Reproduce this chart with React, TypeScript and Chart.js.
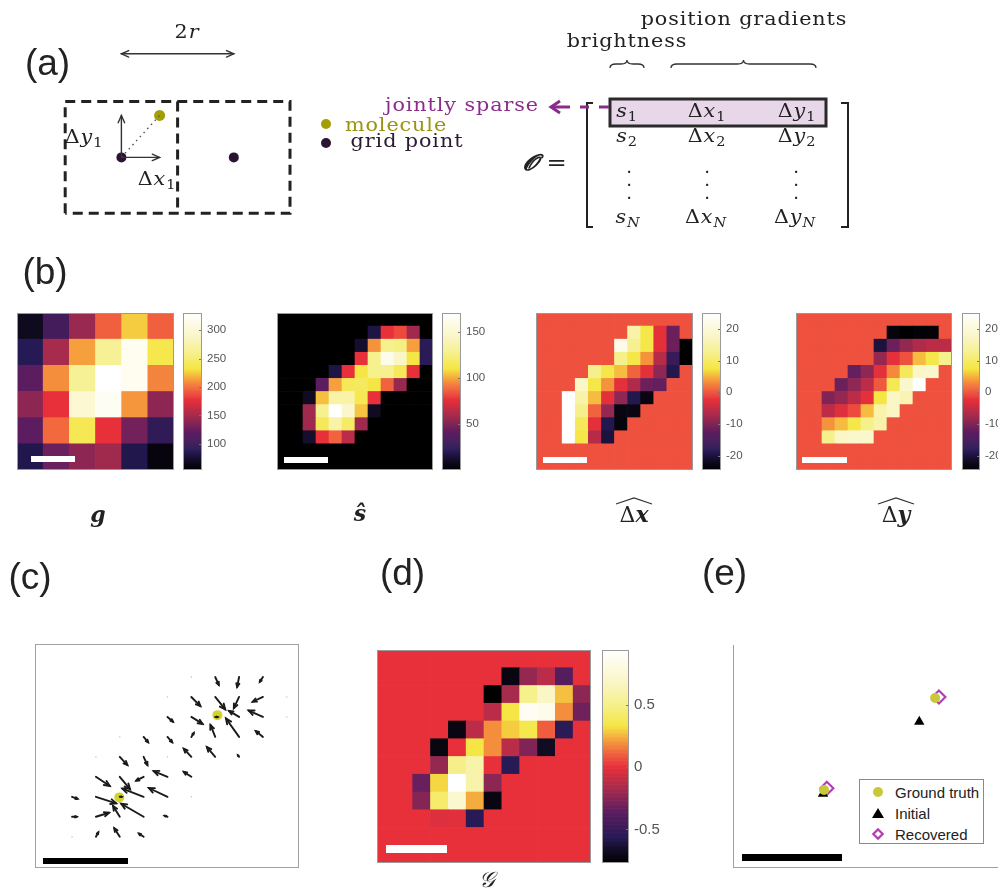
import React, { useEffect, useRef } from 'react';
import { Chart, registerables } from 'chart.js';
Chart.register(...registerables);

const SANS = '"Liberation Sans", Arial, Helvetica, sans-serif';
const SERIF = '"DejaVu Serif", "Liberation Serif", serif';

// ---------------- DATA ----------------
// (b) observed image g (6x6)
const gImage = [
  [68, 106, 145, 195, 225, 195],
  [87, 151, 214, 264, 319, 236],
  [120, 209, 264, 330, 319, 206],
  [140, 178, 297, 322, 211, 140],
  [120, 198, 239, 178, 129, 93],
  [84, 126, 140, 148, 84, 60],
];
const gRange = [54, 330];
const gTicks = [100, 150, 200, 250, 300];

// (b) recovered brightness s-hat (12x12)
const sHatImage = [
  [0, 0, 0, 0, 0, 0, 0, 0, 0, 0, 0, 0],
  [0, 0, 0, 0, 0, 0, 0, 17, 77, 83, 58, 0],
  [0, 0, 0, 0, 0, 0, 12, 97, 128, 126, 99, 22],
  [0, 0, 0, 0, 0, 0, 77, 128, 162, 145, 111, 22],
  [0, 0, 0, 0, 17, 77, 111, 128, 129, 116, 77, 0],
  [0, 0, 0, 41, 99, 116, 117, 111, 88, 56, 0, 0],
  [0, 0, 9, 104, 136, 136, 114, 77, 0, 0, 0, 0],
  [0, 0, 58, 129, 170, 148, 105, 9, 0, 0, 0, 0],
  [0, 0, 58, 116, 136, 119, 58, 0, 0, 0, 0, 0],
  [0, 0, 12, 77, 88, 65, 0, 0, 0, 0, 0, 0],
  [0, 0, 0, 0, 0, 0, 0, 0, 0, 0, 0, 0],
  [0, 0, 0, 0, 0, 0, 0, 0, 0, 0, 0, 0],
];
const sHatRange = [0, 171];
const sHatTicks = [50, 100, 150];

// (b) recovered position gradient dx-hat
const dxImage = [
  [0, 0, 0, 0, 0, 0, 0, 0, 0, 0, 0, 0],
  [0, 0, 0, 0, 0, 0, 0, 15, 8, -2.5, -11.5, 0],
  [0, 0, 0, 0, 0, 0, 22, 13, 8, -2.5, -11.5, -25],
  [0, 0, 0, 0, 0, 0, 12.5, 8, 3.5, -6, -16.5, -25],
  [0, 0, 0, 0, 12.5, 8, 5.5, 1, -2.5, -9, -19, 0],
  [0, 0, 0, 17.5, 8, 3.5, -2.5, -6.5, -11.5, -12, 0, 0],
  [0, 0, 25, 15, 5.5, -2.5, -9, -19, -23, 0, 0, 0],
  [0, 0, 25, 12.5, 1, -8.5, -23, -23, 0, 0, 0, 0],
  [0, 0, 25, 9, -2.5, -19, -23.5, 0, 0, 0, 0, 0],
  [0, 0, 25, 8, -6, -20, 0, 0, 0, 0, 0, 0],
  [0, 0, 0, 0, 0, 0, 0, 0, 0, 0, 0, 0],
  [0, 0, 0, 0, 0, 0, 0, 0, 0, 0, 0, 0],
];
// (b) recovered position gradient dy-hat
const dyImage = [
  [0, 0, 0, 0, 0, 0, 0, 0, 0, 0, 0, 0],
  [0, 0, 0, 0, 0, 0, 0, -23.5, -25, -24, -24, 0],
  [0, 0, 0, 0, 0, 0, -20, -11.5, -8.5, -6.5, -5.5, -5.5],
  [0, 0, 0, 0, 0, 0, -8.5, -2.5, 0, 5.5, 8, 12.5],
  [0, 0, 0, 0, -12, -9, -2.5, 3, 9, 17.5, 18.5, 0],
  [0, 0, 0, -11.5, -9, -5.5, 0.5, 8.5, 18.5, 25, 0, 0],
  [0, 0, -10, -8.5, -5.5, -2.5, 7.5, 17.5, 16, 0, 0, 0],
  [0, 0, -5.5, -3, -0.5, 5.5, 15, 17.5, 0, 0, 0, 0],
  [0, 0, 3.5, 5.5, 8, 12.5, 15, 0, 0, 0, 0, 0],
  [0, 0, 12.5, 17.5, 18.5, 18.5, 0, 0, 0, 0, 0, 0],
  [0, 0, 0, 0, 0, 0, 0, 0, 0, 0, 0, 0],
  [0, 0, 0, 0, 0, 0, 0, 0, 0, 0, 0, 0],
];
const deltaRange = [-24.5, 25];
const deltaTicks = [-20, -10, 0, 10, 20];

// (d) G
const bigGImage = [
  [0, 0, 0, 0, 0, 0, 0, 0, 0, 0, 0, 0],
  [0, 0, 0, 0, 0, 0, 0, -0.72, -0.22, -0.12, -0.39, 0],
  [0, 0, 0, 0, 0, 0, -0.77, -0.17, 0.51, 0.68, 0.27, -0.24],
  [0, 0, 0, 0, 0, 0, -0.12, 0.34, 0.89, 0.85, 0.19, -0.31],
  [0, 0, 0, 0, -0.72, -0.12, 0.19, 0.29, 0.36, 0.1, -0.55, 0],
  [0, 0, 0, -0.72, 0, 0.34, 0.19, -0.12, -0.27, -0.67, 0, 0],
  [0, 0, 0, -0.22, 0.5, 0.6, 0, -0.56, 0, 0, 0, 0],
  [0, 0, -0.33, 0.31, 0.94, 0.6, -0.24, 0, 0, 0, 0, 0],
  [0, 0, -0.26, 0.43, 0.73, 0.24, -0.72, 0, 0, 0, 0, 0],
  [0, 0, 0, -0.03, -0.02, -0.56, 0, 0, 0, 0, 0, 0],
  [0, 0, 0, 0, 0, 0, 0, 0, 0, 0, 0, 0],
  [0, 0, 0, 0, 0, 0, 0, 0, 0, 0, 0, 0],
];
const bigGRange = [-0.77, 0.94];
const bigGTicks = [-0.5, 0, 0.5];

// (c) quiver field: grid column, grid row, u, v (grid units)
const quiverCol = [6, 7, 8, 5, 4, 5, 6, 7, 8, 9, 4, 5, 6, 7, 8, 9, 2, 3, 4, 5, 6, 7, 8, 1, 2, 3, 4, 5, 6, 7, 1, 2, 3, 4, 5, 0, 1, 2, 3, 4, 5, 0, 1, 2, 3, 4, 0, 1, 2, 3];
const quiverRow = [0, 0, 0, 0, 1, 1, 1, 1, 1, 1, 2, 2, 2, 2, 2, 2, 3, 3, 3, 3, 3, 3, 3, 4, 4, 4, 4, 4, 4, 4, 5, 5, 5, 5, 5, 6, 6, 6, 6, 6, 6, 7, 7, 7, 7, 7, 8, 8, 8, 8];
const quiverU = [0.15, -0.08, -0.13, 0, 0, 0.38, 0.42, -0.22, -0.43, 0, 0.23, 0.47, 0.1, -0.42, -0.6, 0, 0, 0.19, 0.2, 0.1, -0.2, -0.55, -0.3, 0, 0.32, 0.16, 0, -0.32, -0.35, -0.05, 0.58, 0.43, -0.31, -0.58, -0.32, 0.23, 0.85, 0.08, -0.89, -0.78, 0, 0.2, 0.55, -0.28, -0.94, -0.12, 0, 0.1, -0.23, -0.2];
const quiverV = [0.4, 0.5, 0.24, 0, 0, 0.46, 0.62, 0.56, 0.24, 0, 0.24, 0.35, 0, -0.3, -0.32, 0, 0, 0.27, 0.27, -0.2, -0.6, -0.92, -0.29, 0, 0.41, 0.41, 0, -0.41, -0.49, -0.08, 0.46, 0.62, 0.19, -0.29, -0.25, 0.1, 0.33, 0, -0.41, -0.44, 0, 0, -0.2, -0.54, -0.65, -0.05, 0, -0.22, -0.43, -0.16];
const quiverMolX = [1.98, 6.09];
const quiverMolY = [6.03, 1.91];

// (e) localisation
const legendLabels = ['Ground truth', 'Initial', 'Recovered'];
const truthX = [1.95, 6.02];
const truthY = [6.07, 1.91];
const initialX = [1.91, 5.44];
const initialY = [6.24, 2.99];
const recoveredX = [2.05, 6.16];
const recoveredY = [5.99, 1.87];

// (a) diagram (units of r)
const cellBoxX = [-1, -1, 3, 3, -1];
const cellBoxY = [-1, 1, 1, -1, -1];
const dividerX = [1, 1];
const dividerY = [1, -1];
const gridPointX = [0, 2];
const gridPointY = [0, 0];
const moleculeX = [0.68];
const moleculeY = [0.75];
const diagArrowX0 = [0, 0, 0];
const diagArrowY0 = [0, 0, 1.85];
const diagArrowX1 = [0, 0.68, 2];
const diagArrowY1 = [0.75, 0, 1.85];
const diagArrowBoth = [false, false, true];

// ---------------- COLORMAP ----------------
const cmapPos = [0, 0.06, 0.12, 0.24, 0.34, 0.45, 0.5, 0.57, 0.645, 0.75, 0.85, 1];
const cmapHex = ['#000000', '#120c24', '#261a55', '#5c1d60', '#a02a4e', '#e8303a', '#ef553e', '#f5963c', '#f5e642', '#f6f08e', '#faf6c6', '#ffffff'];
const cmapRgb = cmapHex.map((h) => [parseInt(h.slice(1, 3), 16), parseInt(h.slice(3, 5), 16), parseInt(h.slice(5, 7), 16)]);
function cmapColor(v: number, range: number[]) {
  let t = (v - range[0]) / (range[1] - range[0]);
  t = Math.max(0, Math.min(1, t));
  let i = 0;
  while (i < cmapPos.length - 2 && t > cmapPos[i + 1]) i++;
  const f = (t - cmapPos[i]) / (cmapPos[i + 1] - cmapPos[i]);
  const a = cmapRgb[i], b = cmapRgb[i + 1];
  const c = [0, 1, 2].map((k) => Math.round(a[k] + (b[k] - a[k]) * f));
  return `rgb(${c[0]},${c[1]},${c[2]})`;
}

// ---------------- CHART CONFIGS ----------------
const baseOptions = (scales: any, padding: any = 0) => ({
  animation: false,
  responsive: false,
  maintainAspectRatio: false,
  events: [],
  layout: { padding },
  plugins: { legend: { display: false }, tooltip: { enabled: false }, title: { display: false } },
  scales,
});

const hiddenLinear = (min: number, max: number, reverse = false) => ({
  type: 'linear', min, max, reverse, offset: false, display: false,
  afterBuildTicks: (s: any) => { s.ticks = []; },
});

function heatmapConfig(image: number[][], range: number[]) {
  const rows = image.length, cols = image[0].length;
  const cells: any[] = [];
  image.forEach((row, r) => row.forEach((v, c) => cells.push({ x: c, y: [r - 0.5, r + 0.5], v })));
  return {
    type: 'bar',
    data: {
      datasets: [{
        data: cells,
        backgroundColor: (ctx: any) => cmapColor(ctx.raw ? ctx.raw.v : range[0], range),
        borderWidth: 0, barPercentage: 1, categoryPercentage: 1,
      }],
    },
    options: baseOptions({ x: hiddenLinear(-0.5, cols - 0.5), y: hiddenLinear(-0.5, rows - 0.5, true) }),
  };
}

const CB_PAD = 14;
const insideTicks = {
  id: 'insideTicks',
  afterDatasetsDraw(chart: any) {
    const { ctx, chartArea } = chart;
    const y = chart.scales.y;
    ctx.save();
    ctx.strokeStyle = '#777';
    ctx.lineWidth = 1;
    y.ticks.forEach((t: any) => {
      const py = Math.round(y.getPixelForValue(t.value)) + 0.5;
      ctx.beginPath();
      ctx.moveTo(chartArea.right - 3, py);
      ctx.lineTo(chartArea.right, py);
      ctx.stroke();
    });
    ctx.restore();
  },
};

function colorbarConfig(range: number[], ticks: number[], fontSize: number, labelW: number) {
  const N = 160;
  const step = (range[1] - range[0]) / N;
  const segs: any[] = [];
  for (let i = 0; i < N; i++) {
    const lo = range[0] + i * step;
    segs.push({ x: 0, y: [lo, lo + step], v: lo + step / 2 });
  }
  return {
    type: 'bar',
    data: {
      datasets: [{
        data: segs,
        backgroundColor: (ctx: any) => cmapColor(ctx.raw ? ctx.raw.v : range[0], range),
        borderWidth: 0, barPercentage: 1, categoryPercentage: 1,
      }],
    },
    options: baseOptions({
      x: hiddenLinear(-0.5, 0.5),
      y: {
        type: 'linear', position: 'right', min: range[0], max: range[1], offset: false,
        afterBuildTicks: (s: any) => { s.ticks = ticks.map((v) => ({ value: v })); },
        afterFit: (s: any) => { s.width = labelW; },
        grid: { display: false, drawTicks: false },
        border: { display: false },
        ticks: { color: '#555', padding: 5, font: { family: SANS, size: fontSize } },
      },
    }, { top: CB_PAD, bottom: CB_PAD, left: 0, right: 0 }),
    plugins: [insideTicks],
  };
}

function drawArrow(ctx: any, x0: number, y0: number, x1: number, y1: number, head: number, both: boolean) {
  const da = (24 * Math.PI) / 180;
  ctx.beginPath();
  ctx.moveTo(x0, y0);
  ctx.lineTo(x1, y1);
  ctx.stroke();
  const tip = (x: number, y: number, ang: number) => {
    ctx.beginPath();
    ctx.moveTo(x - head * Math.cos(ang - da), y - head * Math.sin(ang - da));
    ctx.lineTo(x, y);
    ctx.lineTo(x - head * Math.cos(ang + da), y - head * Math.sin(ang + da));
    ctx.stroke();
  };
  const a = Math.atan2(y1 - y0, x1 - x0);
  tip(x1, y1, a);
  if (both) tip(x0, y0, a + Math.PI);
}

function diagramConfig() {
  const arrowPlugin = {
    id: 'diagArrows',
    afterDatasetsDraw(chart: any) {
      const { ctx } = chart;
      const xs = chart.scales.x, ys = chart.scales.y;
      ctx.save();
      ctx.strokeStyle = '#333';
      ctx.lineWidth = 1.4;
      ctx.lineCap = 'round';
      diagArrowX0.forEach((_, i) => {
        drawArrow(ctx, xs.getPixelForValue(diagArrowX0[i]), ys.getPixelForValue(diagArrowY0[i]),
          xs.getPixelForValue(diagArrowX1[i]), ys.getPixelForValue(diagArrowY1[i]), 8, diagArrowBoth[i]);
      });
      ctx.restore();
    },
  };
  const line = (xs: number[], ys: number[], extra: any) => ({
    data: xs.map((x, i) => ({ x, y: ys[i] })), showLine: true, pointRadius: 0, fill: false, tension: 0, ...extra,
  });
  return {
    type: 'scatter',
    data: {
      datasets: [
        line(cellBoxX, cellBoxY, { borderColor: '#222', borderWidth: 3, borderDash: [10, 6] }),
        line(dividerX, dividerY, { borderColor: '#222', borderWidth: 3, borderDash: [10, 6] }),
        line([gridPointX[0], moleculeX[0]], [gridPointY[0], moleculeY[0]], { borderColor: '#555', borderWidth: 1.4, borderDash: [1.5, 4] }),
        { data: gridPointX.map((x, i) => ({ x, y: gridPointY[i] })), pointRadius: 5, backgroundColor: '#2b1433', borderWidth: 0 },
        { data: moleculeX.map((x, i) => ({ x, y: moleculeY[i] })), pointRadius: 5.5, backgroundColor: '#a49e00', borderWidth: 0 },
      ],
    },
    options: baseOptions({ x: hiddenLinear(-1.3504, 3.4359), y: hiddenLinear(-1.2881, 2.3559) }),
    plugins: [arrowPlugin],
  };
}

function quiverConfig() {
  const quiverPlugin = {
    id: 'quiver',
    afterDatasetsDraw(chart: any) {
      const { ctx } = chart;
      const xs = chart.scales.x, ys = chart.scales.y;
      ctx.save();
      ctx.lineCap = 'round';
      quiverCol.forEach((c, i) => {
        const x0 = xs.getPixelForValue(c), y0 = ys.getPixelForValue(quiverRow[i]);
        const x1 = xs.getPixelForValue(c + quiverU[i]), y1 = ys.getPixelForValue(quiverRow[i] + quiverV[i]);
        const len = Math.hypot(x1 - x0, y1 - y0);
        if (len < 0.5) {
          ctx.fillStyle = '#bbb';
          ctx.fillRect(x0 - 0.6, y0 - 0.6, 1.2, 1.2);
          return;
        }
        ctx.strokeStyle = '#1a1a1a';
        ctx.lineWidth = 1.9;
        drawArrow(ctx, x0, y0, x1, y1, Math.min(6, len * 0.38), false);
      });
      ctx.restore();
    },
  };
  return {
    type: 'scatter',
    data: {
      datasets: [
        { data: quiverCol.map((c, i) => ({ x: c, y: quiverRow[i] })), pointRadius: 0 },
        { data: quiverMolX.map((x, i) => ({ x, y: quiverMolY[i] })), pointRadius: 5, backgroundColor: '#d2d22a', borderWidth: 0 },
      ],
    },
    options: baseOptions({ x: hiddenLinear(-1.343, 9.302), y: hiddenLinear(-1.402, 9.316, true) }),
    plugins: [quiverPlugin],
  };
}

function localisationConfig() {
  const pts = (xs: number[], ys: number[]) => xs.map((x, i) => ({ x, y: ys[i] }));
  return {
    type: 'scatter',
    data: {
      datasets: [
        { label: legendLabels[0], data: pts(truthX, truthY), pointStyle: 'circle', pointRadius: 5, backgroundColor: '#c8c83a', borderWidth: 0, clip: false },
        { label: legendLabels[1], data: pts(initialX, initialY), pointStyle: 'triangle', pointRadius: 6, backgroundColor: '#000', borderColor: '#000', borderWidth: 0, clip: false },
        { label: legendLabels[2], data: pts(recoveredX, recoveredY), pointStyle: 'rectRot', pointRadius: 6.5, backgroundColor: 'rgba(0,0,0,0)', borderColor: '#b23fb2', borderWidth: 2.2, clip: false },
      ],
    },
    options: baseOptions({ x: hiddenLinear(-1.034, 8.007), y: hiddenLinear(-0.087, 9.151, true) }),
  };
}

// ---------------- COMPONENTS ----------------
function ChartCanvas({ left, top, width, height, make }: any) {
  const ref = useRef<HTMLCanvasElement>(null);
  useEffect(() => {
    const chart = new Chart(ref.current as any, make());
    return () => chart.destroy();
  }, []);
  return <canvas ref={ref} width={width} height={height} style={{ position: 'absolute', left, top, width, height }} />;
}

const Frame = ({ left, top, width, height, color = '#9a9a9a' }: any) => (
  <div style={{ position: 'absolute', left, top, width, height, border: `1px solid ${color}`, boxSizing: 'border-box', pointerEvents: 'none' }} />
);
const Bar = ({ left, top, width, height, color }: any) => (
  <div style={{ position: 'absolute', left, top, width, height, background: color }} />
);

const Txt = ({ x, y, size = 18, family = SERIF, color = '#222', italic = false, bold = false, sx = 1, ls = 0, anchor = 'center', children }: any) => (
  <div style={{
    position: 'absolute', left: x, top: y,
    transform: anchor === 'left' ? `translate(0,-50%) scaleX(${sx})` : `translate(-50%,-50%) scaleX(${sx})`,
    transformOrigin: anchor === 'left' ? 'left center' : 'center center',
    fontSize: size, fontFamily: family, color, fontStyle: italic ? 'italic' : 'normal',
    fontWeight: bold ? 'bold' : 'normal', lineHeight: 1, whiteSpace: 'nowrap', letterSpacing: ls,
  }}>{children}</div>
);
const It = ({ children }: any) => <span style={{ fontStyle: 'italic' }}>{children}</span>;
const Sub = ({ children, italic = false }: any) => (
  <span style={{ fontSize: '0.7em', position: 'relative', top: '0.32em', fontStyle: italic ? 'italic' : 'normal' }}>{children}</span>
);

function Heat({ box, cb, image, range, ticks, fontSize, labelW }: any) {
  return (
    <>
      <ChartCanvas left={box[0]} top={box[1]} width={box[2]} height={box[3]} make={() => heatmapConfig(image, range)} />
      <Frame left={box[0]} top={box[1]} width={box[2]} height={box[3]} />
      <ChartCanvas left={cb[0]} top={cb[1] - CB_PAD} width={cb[2] + labelW} height={cb[3] + 2 * CB_PAD}
        make={() => colorbarConfig(range, ticks, fontSize, labelW)} />
      <Frame left={cb[0]} top={cb[1]} width={cb[2]} height={cb[3]} />
    </>
  );
}

function bracePath(x0: number, x1: number, yb: number, h: number) {
  const xm = (x0 + x1) / 2, q = yb - h / 2, r = Math.min(6, (x1 - x0) / 4);
  return `M${x0},${yb} Q${x0},${q} ${x0 + r},${q} L${xm - r},${q} Q${xm},${q} ${xm},${yb - h} Q${xm},${q} ${xm + r},${q} L${x1 - r},${q} Q${x1},${q} ${x1},${yb}`;
}

const PURPLE = '#8b2c8b';
const txt = { size: 18, sx: 1.15, ls: 0.8 };

export default function App() {
  return (
    <div style={{ position: 'fixed', left: 0, top: 0, width: 998, height: 892, overflow: 'hidden', background: '#fff' }}>
      {/* (a) diagram */}
      <ChartCanvas left={40} top={20} width={280} height={215} make={diagramConfig} />

      {/* (b) */}
      <Heat box={[17, 313, 157, 157]} cb={[183, 313, 19, 157]} image={gImage} range={gRange} ticks={gTicks} fontSize={11.5} labelW={36} />
      <Heat box={[277, 313, 156, 157]} cb={[442, 313, 19, 157]} image={sHatImage} range={sHatRange} ticks={sHatTicks} fontSize={11.5} labelW={36} />
      <Heat box={[536, 313, 157, 157]} cb={[702, 313, 19, 157]} image={dxImage} range={deltaRange} ticks={deltaTicks} fontSize={11.5} labelW={36} />
      <Heat box={[796, 313, 156, 157]} cb={[962, 313, 18, 157]} image={dyImage} range={deltaRange} ticks={deltaTicks} fontSize={11.5} labelW={36} />
      <Bar left={31} top={456} width={44} height={6} color="#fff" />
      <Bar left={284} top={457} width={44} height={6} color="#fff" />
      <Bar left={543} top={457} width={44} height={6} color="#fff" />
      <Bar left={802} top={457} width={45} height={6} color="#fff" />

      {/* (c) */}
      <ChartCanvas left={35} top={644} width={264} height={224} make={quiverConfig} />
      <Frame left={35} top={644} width={264} height={224} color="#a0a0a0" />
      <Bar left={43} top={858} width={85} height={6} color="#000" />

      {/* (d) */}
      <Heat box={[377, 650, 214, 213]} cb={[602, 650, 27, 213]} image={bigGImage} range={bigGRange} ticks={bigGTicks} fontSize={15} labelW={40} />
      <Bar left={386} top={845} width={61} height={8} color="#fff" />

      {/* (e) */}
      <ChartCanvas left={734} top={645} width={264} height={222} make={localisationConfig} />
      <div style={{ position: 'absolute', left: 733, top: 645, width: 1, height: 223, background: '#a0a0a0' }} />
      <div style={{ position: 'absolute', left: 733, top: 867, width: 265, height: 1, background: '#a0a0a0' }} />
      <Bar left={742} top={854} width={100} height={7} color="#000" />
      <div style={{ position: 'absolute', left: 859, top: 779, width: 125, height: 65, border: '1px solid #8a8a8a', boxSizing: 'border-box', background: '#fff' }} />
      <div style={{ position: 'absolute', left: 873, top: 787, width: 10, height: 10, borderRadius: 5, background: '#c8c83a' }} />
      <div style={{ position: 'absolute', left: 872, top: 808, width: 0, height: 0, borderLeft: '6px solid transparent', borderRight: '6px solid transparent', borderBottom: '10px solid #000' }} />
      <div style={{ position: 'absolute', left: 874, top: 830, width: 8, height: 8, border: '2px solid #b23fb2', boxSizing: 'border-box', transform: 'rotate(45deg) scale(1.1,1.1)' }} />
      <Txt x={895} y={792} size={15} family={SANS} anchor="left">{legendLabels[0]}</Txt>
      <Txt x={895} y={813} size={15} family={SANS} anchor="left">{legendLabels[1]}</Txt>
      <Txt x={895} y={834} size={15} family={SANS} anchor="left">{legendLabels[2]}</Txt>

      {/* decorations */}
      <svg width={998} height={892} style={{ position: 'absolute', left: 0, top: 0, pointerEvents: 'none' }}>
        <circle cx={326} cy={124} r={5} fill="#a49e00" />
        <circle cx={326} cy={143} r={5} fill="#2b1433" />
        <path d={bracePath(610, 644, 68, 8)} fill="none" stroke="#333" strokeWidth={1.3} />
        <path d={bracePath(671, 816, 68, 8)} fill="none" stroke="#333" strokeWidth={1.3} />
        <path d="M593,103 L587,103 L587,227 L593,227" fill="none" stroke="#222" strokeWidth={2} />
        <path d="M841,103 L848,103 L848,227 L841,227" fill="none" stroke="#222" strokeWidth={2} />
        <rect x={610} y={99} width={216} height={27} fill="#e8d7e8" stroke="#2a2a2a" strokeWidth={3} />
        <polyline points="560,101 551,107 560,113" fill="none" stroke={PURPLE} strokeWidth={3} />
        <line x1={553} y1={107} x2={570} y2={107} stroke={PURPLE} strokeWidth={3} />
        <line x1={580} y1={107} x2={589} y2={107} stroke={PURPLE} strokeWidth={3} />
        <line x1={599} y1={107} x2={609} y2={107} stroke={PURPLE} strokeWidth={3} />
        <path d="M616,504 L634,498 L652,504" fill="none" stroke="#333" strokeWidth={1.2} />
        <path d="M878,504 L896,498 L914,504" fill="none" stroke="#333" strokeWidth={1.2} />
      </svg>

      {/* panel labels */}
      <Txt x={47.5} y={62.3} size={37} family={SANS}>(a)</Txt>
      <Txt x={45} y={271} size={37} family={SANS}>(b)</Txt>
      <Txt x={30} y={576} size={37} family={SANS}>(c)</Txt>
      <Txt x={402.5} y={572} size={37} family={SANS}>(d)</Txt>
      <Txt x={724.5} y={572} size={37} family={SANS}>(e)</Txt>

      {/* (a) annotations */}
      <Txt x={187} y={31.5} {...txt}>2<It>r</It></Txt>
      <Txt x={84} y={137} {...txt}>Δ<It>y</It><Sub>1</Sub></Txt>
      <Txt x={157} y={179} {...txt}>Δ<It>x</It><Sub>1</Sub></Txt>
      <Txt x={396} y={124.5} {...txt} color="#9a9410">molecule</Txt>
      <Txt x={407} y={141} {...txt} color="#2b1a30">grid point</Txt>
      <Txt x={461.5} y={105} {...txt} color={PURPLE}>jointly sparse</Txt>
      <Txt x={744} y={18.5} {...txt}>position gradients</Txt>
      <Txt x={627} y={41} {...txt}>brightness</Txt>
      <Txt x={545} y={162} size={22} sx={1.1}><span style={{ fontStyle: 'italic', fontWeight: 'bold' }}>𝓞</span> =</Txt>

      <Txt x={627} y={110.5} {...txt}><It>s</It><Sub>1</Sub></Txt>
      <Txt x={707} y={110.5} {...txt}>Δ<It>x</It><Sub>1</Sub></Txt>
      <Txt x={797} y={110.5} {...txt}>Δ<It>y</It><Sub>1</Sub></Txt>
      <Txt x={627} y={136} {...txt}><It>s</It><Sub>2</Sub></Txt>
      <Txt x={707} y={136} {...txt}>Δ<It>x</It><Sub>2</Sub></Txt>
      <Txt x={797} y={136} {...txt}>Δ<It>y</It><Sub>2</Sub></Txt>
      {[629, 707, 796].map((cx) => (
        <div key={cx} style={{ position: 'absolute', left: cx - 5, top: 160, width: 10, textAlign: 'center', fontFamily: SERIF, fontSize: 18, lineHeight: '13px', color: '#222' }}>.<br />.<br />.</div>
      ))}
      <Txt x={628} y={216.5} {...txt}><It>s</It><Sub italic>N</Sub></Txt>
      <Txt x={706} y={216.5} {...txt}>Δ<It>x</It><Sub italic>N</Sub></Txt>
      <Txt x={795} y={216.5} {...txt}>Δ<It>y</It><Sub italic>N</Sub></Txt>

      {/* (b) labels */}
      <Txt x={98} y={514} size={22} bold italic>g</Txt>
      <Txt x={360} y={513} size={22} bold italic>ŝ</Txt>
      <Txt x={634} y={514} size={22}>Δ<span style={{ fontWeight: 'bold', fontStyle: 'italic' }}>x</span></Txt>
      <Txt x={896} y={514} size={22}>Δ<span style={{ fontWeight: 'bold', fontStyle: 'italic' }}>y</span></Txt>

      {/* (d) label */}
      <Txt x={487} y={880} size={22} italic>𝒢</Txt>
    </div>
  );
}
